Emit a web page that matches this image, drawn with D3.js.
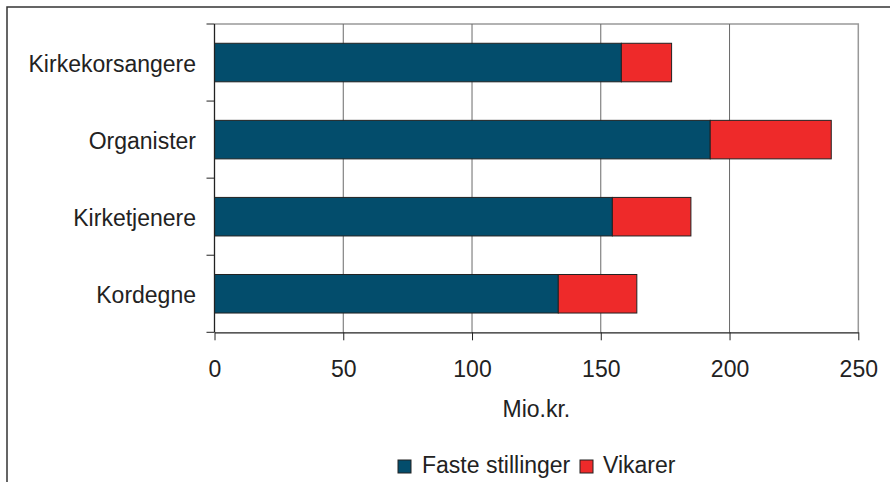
<!DOCTYPE html>
<html>
<head>
<meta charset="utf-8">
<script src="https://cdn.jsdelivr.net/npm/d3@7"></script>
<style>
  html, body { margin: 0; padding: 0; background: #fff; }
  svg { display: block; font-family: "Liberation Sans", Arial, sans-serif; }
</style>
</head>
<body>
<svg id="chart" width="890" height="482"></svg>
<script>
// Lønudgifter fordelt på faggrupper (mio. kr.)
const categories = ["Kirkekorsangere", "Organister", "Kirketjenere", "Kordegne"];
const seriesNames = ["Faste stillinger", "Vikarer"];
const fasteValues = [158, 192.5, 154.5, 133.5];
const vikarValues = [19.5, 47, 30.5, 30.5];
const xTicks = [0, 50, 100, 150, 200, 250];
const axisTitle = "Mio.kr.";
const colors = ["#034d6c", "#ee2a2a"];

const svg = d3.select("#chart");
const plotLeft = 214.5, plotRight = 858.3, plotTop = 24, plotBottom = 332.3;

// Outer frame (only top and left edges fall inside the page)
svg.append("rect")
  .attr("x", 7).attr("y", 7)
  .attr("width", 1000).attr("height", 1000)
  .attr("fill", "none").attr("stroke", "#333").attr("stroke-width", 1.5);

const x = d3.scaleLinear().domain([0, 250]).range([plotLeft, plotRight]);
const y = d3.scaleBand().domain(categories).range([plotTop, plotBottom])
  .paddingInner(0.5).paddingOuter(0.25);

// Plot area border (top and right)
svg.append("path")
  .attr("d", `M${plotLeft},${plotTop}H${plotRight}V${plotBottom}`)
  .attr("fill", "none").attr("stroke", "#999").attr("stroke-width", 1.5);

// Vertical gridlines
svg.append("g").selectAll("line")
  .data(xTicks.filter(t => t > 0 && t < 250))
  .join("line")
  .attr("x1", d => x(d)).attr("x2", d => x(d))
  .attr("y1", plotTop).attr("y2", plotBottom)
  .attr("stroke", "#6a6a6a").attr("stroke-width", 1);

// Stacked bars
const rows = categories.map((c, i) => ({ cat: c, faste: fasteValues[i], vikar: vikarValues[i] }));
const stack = d3.stack().keys(["faste", "vikar"])(rows);
svg.append("g").selectAll("g")
  .data(stack)
  .join("g")
  .attr("fill", (d, i) => colors[i])
  .selectAll("rect")
  .data(d => d)
  .join("rect")
  .attr("x", d => x(d[0]))
  .attr("y", d => y(d.data.cat))
  .attr("width", d => x(d[1]) - x(d[0]))
  .attr("height", y.bandwidth())
  .attr("stroke", "#222").attr("stroke-width", 1);

// Bottom axis
const xAxis = svg.append("g")
  .attr("transform", `translate(0,${plotBottom})`)
  .call(d3.axisBottom(x).tickValues(xTicks).tickSize(8).tickSizeOuter(0).tickPadding(20));
xAxis.select(".domain").attr("stroke", "#222").attr("stroke-width", 1.3);
xAxis.selectAll(".tick line").attr("stroke", "#222");
xAxis.selectAll(".tick text")
  .attr("font-size", 23).attr("fill", "#222")
  .attr("font-family", "Liberation Sans, Arial, sans-serif");

// Left axis with category boundary ticks
const gap = y.step() - y.bandwidth();
const boundaries = categories.map(c => y(c) - gap / 2).concat([plotBottom]);
svg.append("line")
  .attr("x1", plotLeft).attr("x2", plotLeft).attr("y1", plotTop).attr("y2", plotBottom)
  .attr("stroke", "#222").attr("stroke-width", 1.3);
svg.append("g").selectAll("line")
  .data(boundaries)
  .join("line")
  .attr("x1", plotLeft - 8).attr("x2", plotLeft)
  .attr("y1", d => d).attr("y2", d => d)
  .attr("stroke", "#222");

svg.append("g").selectAll("text")
  .data(categories)
  .join("text")
  .attr("x", 196)
  .attr("y", d => y(d) + y.bandwidth() / 2 + 9)
  .attr("text-anchor", "end")
  .attr("font-size", 23).attr("fill", "#222")
  .text(d => d);

// Axis title
svg.append("text")
  .attr("x", (plotLeft + plotRight) / 2).attr("y", 416.5)
  .attr("text-anchor", "middle")
  .attr("font-size", 23).attr("fill", "#222")
  .text(axisTitle);

// Legend
const legendItems = [
  { name: seriesNames[0], color: colors[0], sx: 398, tx: 422 },
  { name: seriesNames[1], color: colors[1], sx: 580, tx: 603 }
];
const lg = svg.append("g");
lg.selectAll("rect")
  .data(legendItems)
  .join("rect")
  .attr("x", d => d.sx).attr("y", 460)
  .attr("width", 13).attr("height", 13)
  .attr("fill", d => d.color)
  .attr("stroke", "#222").attr("stroke-width", 1);
lg.selectAll("text")
  .data(legendItems)
  .join("text")
  .attr("x", d => d.tx).attr("y", 473)
  .attr("font-size", 23).attr("fill", "#222")
  .text(d => d.name);
</script>
</body>
</html>
